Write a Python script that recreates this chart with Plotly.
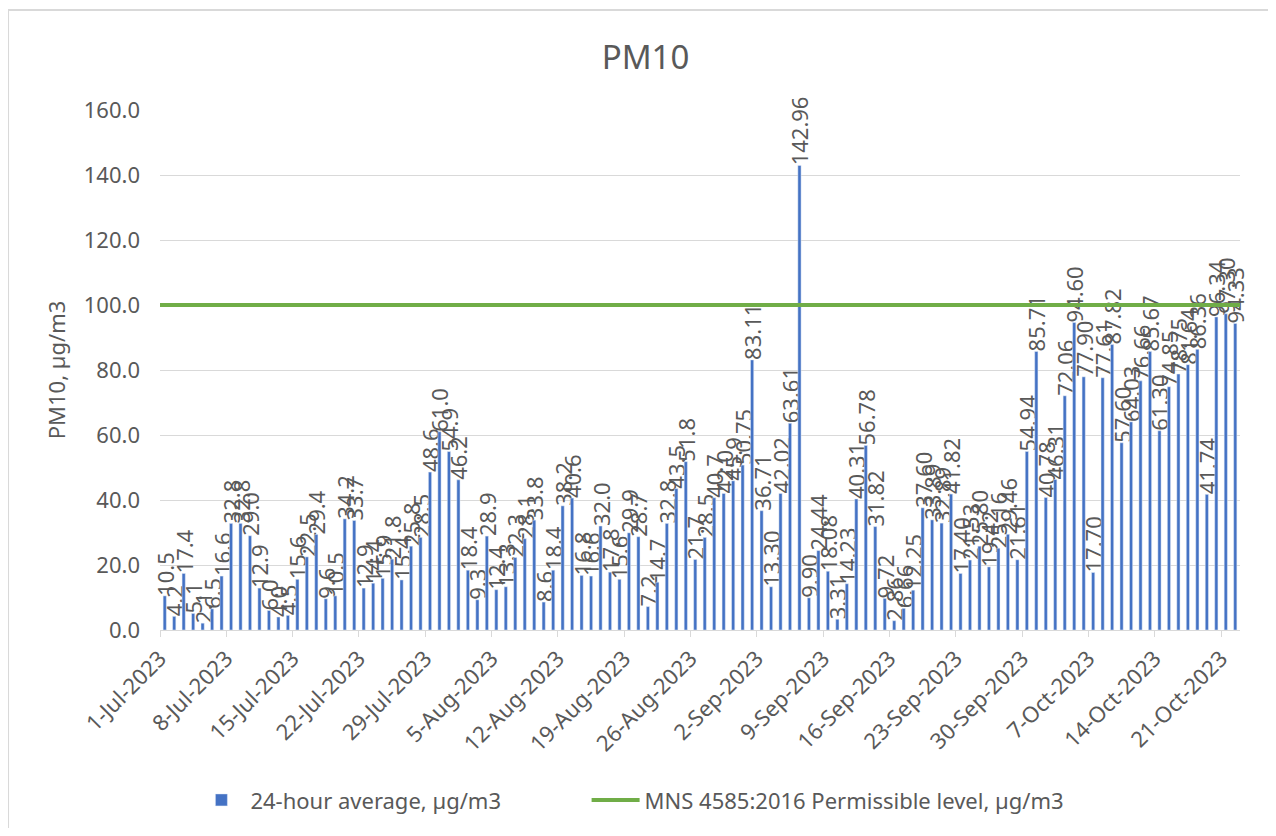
import pandas as pd
import plotly.graph_objects as go

start_date = "2023-07-01"
end_date = "2023-10-23"

# 24-hour average PM10, one value per day from 1-Jul-2023
pm10 = [
    10.5, 4.2, 17.4, 5.1, 2.1, 6.5, 16.6, 32.8, 32.8, 29.0,
    12.9, 6.0, 4.0, 4.5, 15.6, 22.5, 29.4, 9.6, 10.5, 34.2,
    33.7, 12.9, 14.4, 15.9, 21.8, 15.4, 25.8, 28.5, 48.6, 61.0,
    54.9, 46.2, 18.4, 9.3, 28.9, 12.4, 13.3, 22.3, 28.1, 33.8,
    8.6, 18.4, 38.2, 40.6, 16.8, 16.6, 32.0, 17.8, 15.6, 29.9,
    28.7, 7.2, 14.7, 32.8, 43.5, 51.8, 21.7, 28.5, 40.7, 42.0,
    45.9, 50.75, 83.11, 36.71, 13.30, 42.02, 63.61, 142.96, 9.90, 24.44,
    18.08, 3.31, 14.23, 40.31, 56.78, 31.82, 9.72, 2.86, 6.66, 12.25,
    37.60, 33.89, 32.89, 41.82, 17.40, 21.53, 25.80, 19.42, 25.16, 29.46,
    21.61, 54.94, 85.71, 40.78, 46.31, 72.06, 94.60, 77.90, 17.70, 77.61,
    87.82, 57.60, 64.03, 76.66, 85.67, 61.30, 74.85, 78.75, 81.64, 86.36,
    41.74, 96.34, 97.30, 94.33,
]
one_decimal_days = 61  # the first days are labelled with one decimal
permissible_level = 100

dates = pd.date_range(start_date, periods=len(pm10), freq="D")
labels = [f"{v:.1f}" if i < one_decimal_days else f"{v:.2f}" for i, v in enumerate(pm10)]
limit_dates = pd.date_range(start_date, end_date, freq="D")

grey = "#595959"
grid = "#d9d9d9"
font = "Noto Sans"

fig = go.Figure()
fig.add_trace(
    go.Bar(
        x=dates,
        y=pm10,
        xperiod=86400000,
        xperiodalignment="middle",
        name="24-hour average, µg/m3",
        marker_color="#4472c4",
        text=labels,
        textposition="outside",
        textangle=-90,
        constraintext="none",
        cliponaxis=False,
        textfont=dict(family=font, size=22, color=grey),
        legend="legend",
    )
)
fig.add_trace(
    go.Scatter(
        x=limit_dates,
        y=[permissible_level] * len(limit_dates),
        mode="lines",
        name="MNS 4585:2016 Permissible level, µg/m3",
        line=dict(color="#70ad47", width=4),
        legend="legend2",
    )
)

legend_style = dict(orientation="h", xanchor="left", yref="container", y=0.034,
                    yanchor="middle", font=dict(size=22, color=grey), itemwidth=48)

fig.update_layout(
    width=1260,
    height=820,
    margin=dict(l=152, r=28, t=102, b=198, autoexpand=False),
    paper_bgcolor="white",
    plot_bgcolor="white",
    font=dict(family=font, size=22, color=grey),
    title=dict(text="PM10", x=0.506, xanchor="center", y=0.94, yanchor="middle",
               font=dict(size=33, color=grey)),
    bargap=0.66,
    showlegend=True,
    legend=dict(x=0.03, **legend_style),
    legend2=dict(x=0.395, **legend_style),
    shapes=[
        dict(type="rect", xref="paper", yref="paper", x0=-0.1407, y0=-0.5,
             x1=1.2, y1=1.1923, line=dict(color=grid, width=2), layer="below"),
    ],
)
fig.update_xaxes(
    type="date",
    range=[start_date, end_date],
    tick0=start_date,
    dtick=7 * 86400000,
    tickformat="%-d-%b-%Y",
    tickangle=-45,
    ticks="outside",
    ticklen=6,
    tickcolor=grid,
    showline=True,
    linecolor=grid,
    linewidth=1,
    showgrid=False,
    tickfont=dict(size=22, color=grey),
)
fig.update_yaxes(
    range=[0, 160],
    dtick=20,
    tickformat=".1f",
    showgrid=True,
    gridcolor=grid,
    gridwidth=1,
    zeroline=False,
    ticklabelstandoff=19,
    title=dict(text="PM10, µg/m3", standoff=12, font=dict(size=22, color=grey)),
    tickfont=dict(size=22, color=grey),
)

fig.write_html("out.html")
